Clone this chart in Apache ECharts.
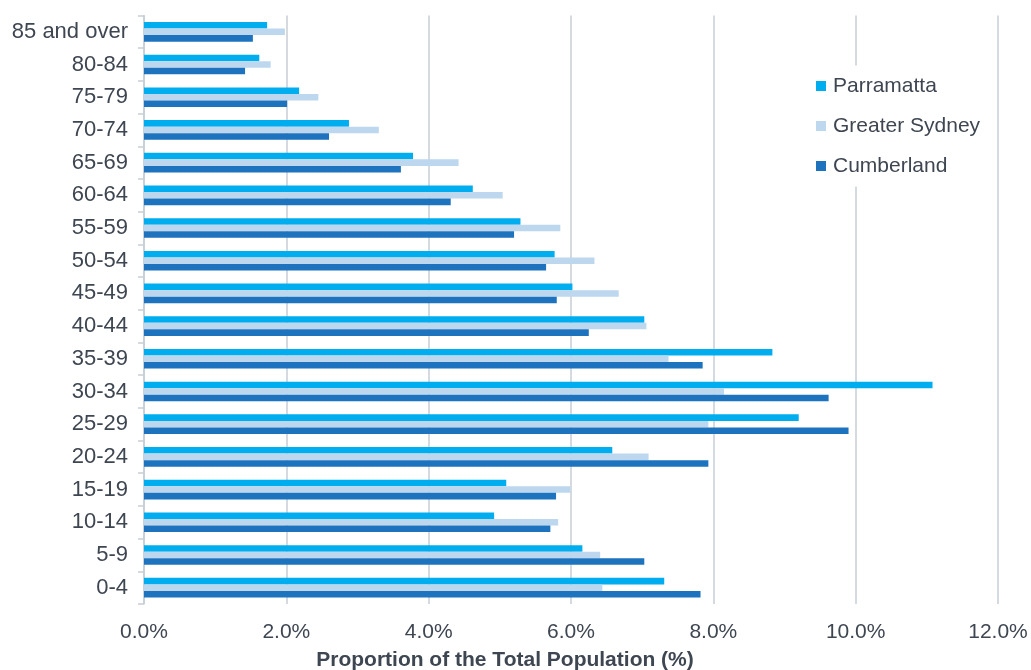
<!DOCTYPE html>
<html>
<head>
<meta charset="utf-8">
<script src="https://cdn.jsdelivr.net/npm/echarts@6/dist/echarts.min.js"></script>
<style>html,body{margin:0;padding:0;background:#fff}#c{width:1031px;height:670px}</style>
</head>
<body>
<div id="c"></div>
<script>
const categories = ['0-4','5-9','10-14','15-19','20-24','25-29','30-34','35-39','40-44','45-49','50-54','55-59','60-64','65-69','70-74','75-79','80-84','85 and over'];
const parramatta = [7.31, 6.16, 4.92, 5.09, 6.58, 9.20, 11.08, 8.83, 7.03, 6.02, 5.77, 5.29, 4.62, 3.78, 2.88, 2.18, 1.62, 1.73];
const greaterSydney = [6.44, 6.41, 5.82, 5.99, 7.09, 7.93, 8.15, 7.37, 7.06, 6.67, 6.33, 5.85, 5.04, 4.42, 3.30, 2.45, 1.78, 1.98];
const cumberland = [7.82, 7.03, 5.71, 5.79, 7.93, 9.90, 9.62, 7.85, 6.25, 5.80, 5.65, 5.20, 4.31, 3.61, 2.60, 2.01, 1.42, 1.53];
const xTicks = [0, 2, 4, 6, 8, 10, 12];
const seriesNames = ['Parramatta', 'Greater Sydney', 'Cumberland'];
const axisTitle = 'Proportion of the Total Population (%)';

const FONT = "'Liberation Sans', Arial, sans-serif";
const TXT = '#3e4651';
const chart = echarts.init(document.getElementById('c'), null, {renderer: 'canvas'});
chart.setOption({
  animation: false,
  backgroundColor: '#fff',
  grid: {left: 144, right: 33, top: 15.5, bottom: 66, containLabel: false},
  legend: {
    data: seriesNames,
    orient: 'vertical',
    left: 806, top: 65.5,
    padding: 10,
    backgroundColor: '#ffffff',
    icon: 'rect', itemWidth: 10, itemHeight: 10, itemGap: 19,
    textStyle: {fontFamily: FONT, fontSize: 21, color: TXT, lineHeight: 21, padding: [0, 0, 0, 2]}
  },
  xAxis: {
    type: 'value', min: xTicks[0], max: xTicks[xTicks.length-1], interval: 2,
    axisLine: {show: false}, axisTick: {show: false},
    splitLine: {show: true, lineStyle: {color: '#c6ced6', width: 1.5}},
    axisLabel: {fontFamily: FONT, fontSize: 21, color: TXT, margin: 18,
      formatter: v => v.toFixed(1) + '%'}
  },
  yAxis: {
    type: 'category', data: categories,
    axisLine: {show: true, lineStyle: {color: '#c6ced6', width: 1.5}},
    axisTick: {show: true, length: 6, lineStyle: {color: '#c6ced6', width: 1.5}},
    axisLabel: {fontFamily: FONT, fontSize: 22, color: TXT, margin: 16}
  },
  graphic: [{type: 'text', x: 505, y: 660,
    style: {text: axisTitle, fill: TXT, font: 'bold 21px ' + FONT, textAlign: 'center', textVerticalAlign: 'middle'}}],
  series: [
    {name: seriesNames[0], type: 'bar', data: parramatta, itemStyle: {color: '#00aeef'}, barGap: '0%', barCategoryGap: '40%'},
    {name: seriesNames[1], type: 'bar', data: greaterSydney, itemStyle: {color: '#bdd7ee'}, barGap: '0%', barCategoryGap: '40%'},
    {name: seriesNames[2], type: 'bar', data: cumberland, itemStyle: {color: '#1e73be'}, barGap: '0%', barCategoryGap: '40%'}
  ]
});
</script>
</body>
</html>
